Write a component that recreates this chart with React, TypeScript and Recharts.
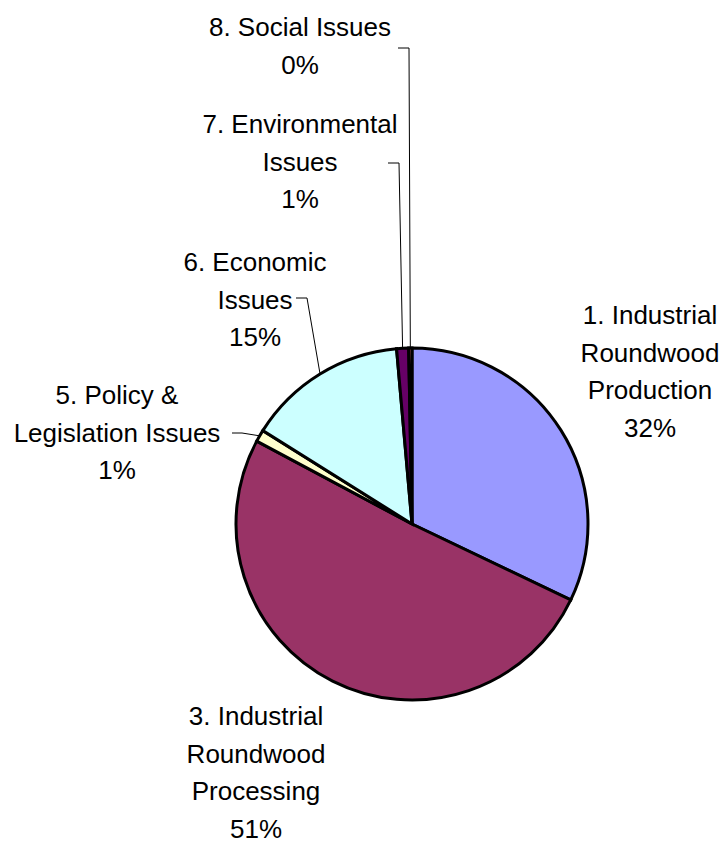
import React from 'react';
import { PieChart, Pie, Cell } from 'recharts';

// slice data, clockwise from 12 o'clock
const categories = [
  '1. Industrial\nRoundwood\nProduction',
  '3. Industrial\nRoundwood\nProcessing',
  '5. Policy &\nLegislation Issues',
  '6. Economic\nIssues',
  '7. Environmental\nIssues',
  '8. Social Issues',
];
const shares = [32.1, 50.7, 1.1, 14.7, 1.1, 0.3];
const colors = ['#9999FF', '#993366', '#FFFFCC', '#CCFFFF', '#660066', '#FF8080'];

// label placement relative to the pie centre (first text line centre)
const labelOffsets = [
  [238, -209],
  [-156, 192],
  [-295, -129],
  [-157, -262],
  [-112, -400],
  [-112, -497],
];
// leader lines: elbow and end, relative to pie centre (null = no leader)
const leaders: (number[][] | null)[] = [
  null,
  null,
  [[-170, -91], [-180, -91]],
  [[-105, -226], [-116, -226]],
  [[-13, -361], [-24, -361]],
  [[-3, -476], [-14, -476]],
];

const RAD = Math.PI / 180;
const LINE_H = 37.5;
const FONT = 'Arial, "Liberation Sans", sans-serif';

const data = categories.map((name, i) => ({ name, value: shares[i] }));

function renderLabel(props: any) {
  const { cx, cy, midAngle, outerRadius, index, percent } = props;
  const [dx, dy] = labelOffsets[index];
  const lines = categories[index].split('\n').concat(`${Math.round(percent * 100)}%`);
  const lead = leaders[index];
  let path = null;
  if (lead) {
    const ex = cx + outerRadius * Math.cos(-midAngle * RAD);
    const ey = cy + outerRadius * Math.sin(-midAngle * RAD);
    const pts = [[ex, ey], ...lead.map(([px, py]) => [cx + px, cy + py])];
    path = (
      <polyline
        points={pts.map((p) => p.join(',')).join(' ')}
        fill="none"
        stroke="#000"
        strokeWidth={1}
      />
    );
  }
  return (
    <g key={`lbl-${index}`}>
      {path}
      {lines.map((t, i) => (
        <text
          key={i}
          x={cx + dx}
          y={cy + dy + i * LINE_H}
          textAnchor="middle"
          dominantBaseline="central"
          fontFamily={FONT}
          fontSize={26}
          fill="#000"
        >
          {t}
        </text>
      ))}
    </g>
  );
}

export default function App() {
  return (
    <div style={{ width: 719, height: 835, background: '#fff' }}>
      <PieChart width={719} height={835} margin={{ top: 0, right: 0, bottom: 0, left: 0 }}>
        <Pie
          data={data}
          dataKey="value"
          nameKey="name"
          cx={404}
          cy={516}
          outerRadius={176}
          startAngle={90}
          endAngle={-270}
          stroke="#000"
          strokeWidth={3}
          label={renderLabel}
          labelLine={false}
          isAnimationActive={false}
        >
          {data.map((d, i) => (
            <Cell key={d.name} fill={colors[i]} />
          ))}
        </Pie>
      </PieChart>
    </div>
  );
}
